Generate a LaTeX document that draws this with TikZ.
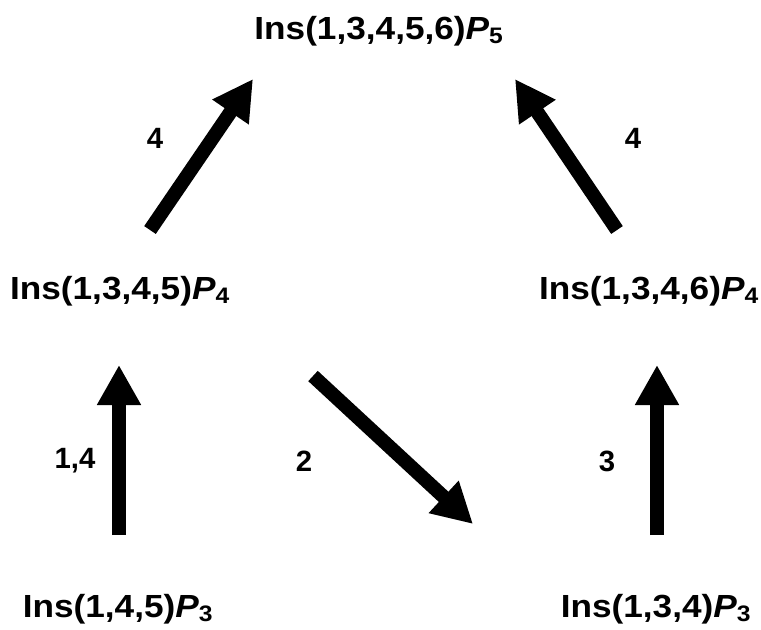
\documentclass[tikz,border=0pt]{standalone}
\usepackage{fontspec}
\setmainfont{Liberation Sans}
\newfontfamily\insfont[FakeStretch=1.1]{Liberation Sans}
\usetikzlibrary{arrows.meta}
\usetikzlibrary{positioning}

\begin{document}
\begin{tikzpicture}[x=0.75pt, y=-0.75pt,
  ins/.style={font=\insfont\fontsize{24}{28}\selectfont\bfseries, inner sep=0pt, anchor=base},
  lbl/.style={font=\fontsize{22}{26}\selectfont\bfseries, inner sep=0pt},
  fatarrow/.style={line width=10.5pt, -{Triangle[length=30pt,width=31pt]}}]
  \useasboundingbox (0,0) rectangle (761,629);

  % the five compounds
  \node[ins] (Top)   at (379,39)  {Ins(1,3,4,5,6)\textit{P}\textsubscript{5}};
  \node[ins] (MidL)  at (120,299) {Ins(1,3,4,5)\textit{P}\textsubscript{4}};
  \node[ins] (MidR)  at (649,299) {Ins(1,3,4,6)\textit{P}\textsubscript{4}};
  \node[ins] (BotL)  at (118,617) {Ins(1,4,5)\textit{P}\textsubscript{3}};
  \node[ins] (BotR)  at (656,617) {Ins(1,3,4)\textit{P}\textsubscript{3}};

  % arrow ends
  \coordinate (BotLup)   at (119,535);
  \coordinate (MidLdown) at (119,365);
  \coordinate (BotRup)   at (657,535);
  \coordinate (MidRdown) at (657,365);
  \coordinate (MidLup)   at (150,230);
  \coordinate (TopL)     at (253,79);
  \coordinate (MidRup)   at (617,230);
  \coordinate (TopR)     at (515,79);
  \coordinate (Cross)    at (313,376);
  \coordinate (BotRtop)  at (473,524);

  \draw[fatarrow] (BotLup) -- (MidLdown);
  \draw[fatarrow] (BotRup) -- (MidRdown);
  \draw[fatarrow] (MidLup) -- (TopL);
  \draw[fatarrow] (MidRup) -- (TopR);
  \draw[fatarrow] (Cross) -- (BotRtop);

  % enzyme labels
  \node[lbl] (kL)  at (155,138) {4};
  \node[lbl] (kR)  at (633,138) {4};
  \node[lbl] (kBL) at (75,461)  {1,4};
  \node[lbl] (kX)  at (304,461) {2};
  \node[lbl] (kBR) at (607,461) {3};
\end{tikzpicture}
\end{document}
